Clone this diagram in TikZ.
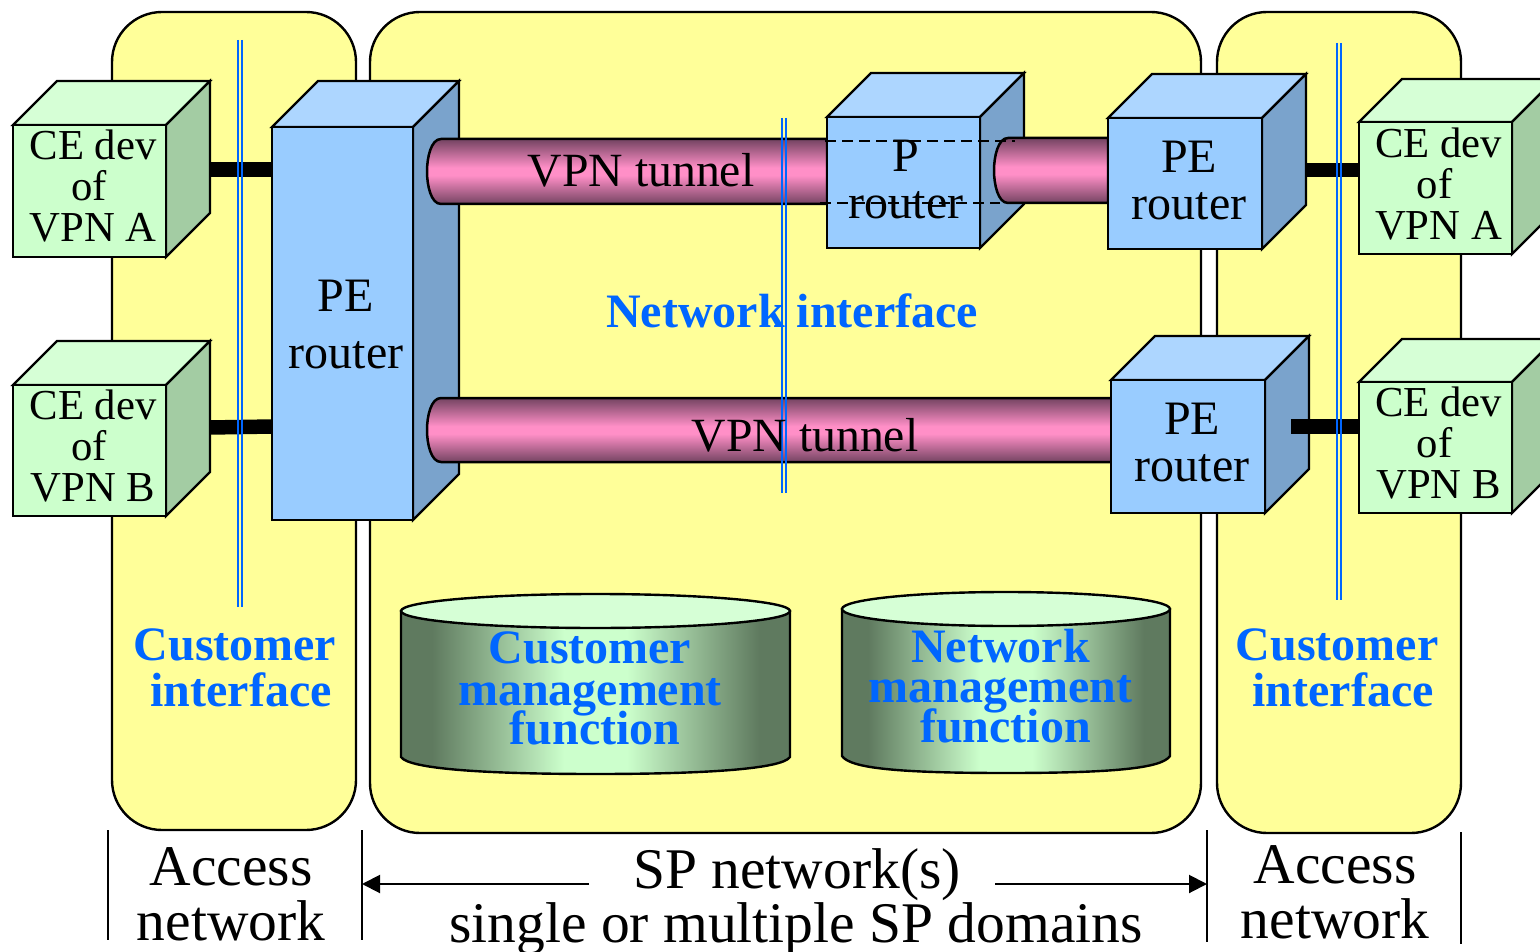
\documentclass[tikz,border=0pt]{standalone}
\usepackage{fontspec}
\setmainfont{Liberation Serif}
\usetikzlibrary{arrows.meta}
\normallineskiplimit=-100pt
\lineskiplimit=-100pt
\definecolor{zone}{HTML}{FFFF99}
\definecolor{gf}{HTML}{CCFFCC}
\definecolor{gt}{HTML}{D6FFD6}
\definecolor{gs}{HTML}{A3CCA3}
\definecolor{bf}{HTML}{99CCFF}
\definecolor{bt}{HTML}{ADD6FF}
\definecolor{bs}{HTML}{7AA3CC}
\definecolor{pk}{HTML}{FF8FC7}
\definecolor{pkd}{HTML}{7A4766}
\definecolor{cyld}{HTML}{5F7A5F}
\definecolor{ifc}{HTML}{0066FF}
\pgfdeclarehorizontalshading{drumshade}{100bp}{color(0bp)=(cyld); color(29bp)=(cyld); color(46bp)=(gf); color(54bp)=(gf); color(71bp)=(cyld); color(100bp)=(cyld)}
\pgfdeclareverticalshading{tubeshade}{100bp}{color(0bp)=(pkd); color(26bp)=(pkd); color(47bp)=(pk); color(53bp)=(pk); color(74bp)=(pkd); color(100bp)=(pkd)}
\tikzset{
  x=1pt,y=-1pt,
  zonebox/.style={draw=black,line width=2.4pt,fill=zone,rounded corners=50pt},
  facebox/.style={draw=black,line width=2.2pt,line join=miter,inner sep=0pt,outer sep=0pt},
  cubeside/.style={draw=black,line width=2.2pt,line join=miter},
  link/.style={line width=14.5pt,black},
  lab/.style={font=\fontsize{42.7}{41}\selectfont,align=center,inner sep=0pt,anchor=center,text=black},
  rtr/.style={font=\fontsize{48}{47}\selectfont,align=center,inner sep=0pt,anchor=center,text=black},
  big/.style={font=\fontsize{57.5}{55}\selectfont,align=center,inner sep=0pt,anchor=center,text=black},
  ifl/.style={font=\fontsize{48}{46}\selectfont\bfseries,align=center,inner sep=0pt,anchor=center,text=ifc},
  cyl/.style={font=\fontsize{48}{40}\selectfont\bfseries,align=center,inner sep=0pt,anchor=center,text=ifc},
  tun/.style={font=\fontsize{47.7}{46}\selectfont,inner sep=0pt,anchor=base,text=black},
  span/.style={font=\fontsize{57.5}{55}\selectfont,inner sep=0pt,anchor=base,text=black},
  bar/.style={line width=2pt,black},
  ifline/.style={line width=2.8pt,ifc},
  arr/.style={line width=2pt,black,-{Triangle[length=18pt,width=18pt]}},
  hiddenedge/.style={line width=1.6pt,black,dash pattern=on 11pt off 6pt},
  tube/.style={draw=black,line width=2.5pt,shading=tubeshade},
  drumbody/.style={draw=black,line width=2.4pt,shading=drumshade},
  drumtop/.style={draw=black,line width=2.4pt,fill=gt}
}
% name, x0, y0, x1, y1, depth, face, top, side
\newcommand{\cubebox}[9]{%
  \path[cubeside,fill=#8] (#2,#3) -- (#2+#6,#3-#6) -- (#4+#6,#3-#6) -- (#4,#3) -- cycle;
  \path[cubeside,fill=#9] (#4,#3) -- (#4+#6,#3-#6) -- (#4+#6,#5-#6) -- (#4,#5) -- cycle;
  \node[facebox,fill=#7,minimum width=#4pt-#2pt,minimum height=#5pt-#3pt] (#1) at ({(#2+#4)/2},{(#3+#5)/2}) {};
}
% name, x0, top, x1, bottom : tube with rounded left end
\newcommand{\tubebox}[5]{%
  \path[tube] (#2+14,#3) .. controls (#2+4,#3) and (#2,{(#3+#5)/2-14}) .. (#2,{(#3+#5)/2})
     .. controls (#2,{(#3+#5)/2+14}) and (#2+4,#5) .. (#2+14,#5) -- (#4,#5) -- (#4,#3) -- cycle;
  \coordinate (#1) at ({(#2+#4)/2},{(#3+#5)/2});
}
% name, x0, x1, top-centre y, bottom y
\newcommand{\drum}[5]{%
  \path[drumbody]
    (#2,#4) -- (#2,#5) .. controls (#2+8,#5+12) and ({(#2+#3)/2-110},#5+17) .. ({(#2+#3)/2},#5+17)
    .. controls ({(#2+#3)/2+110},#5+17) and (#3-8,#5+12) .. (#3,#5) -- (#3,#4) -- cycle;
  \path[drumtop] ({(#2+#3)/2},#4) ellipse [x radius={(#3-#2)/2},y radius=17];
  \coordinate (#1) at ({(#2+#3)/2},#4);
}
\begin{document}
\begin{tikzpicture}
\useasboundingbox (0,0) rectangle (1540,952);
\clip (0,0) rectangle (1540,952);

% zones
\path[zonebox] (112,12) rectangle (356,830);
\path[zonebox] (370,12) rectangle (1201,833);
\path[zonebox] (1217,12) rectangle (1461,833);

% drums
\drum{custDrum}{401}{790}{611}{757}
\drum{netDrum}{842}{1170}{609}{756}

% access links, drawn before the boxes
\coordinate (ceAport) at (209,169.5);
\coordinate (peAport) at (273,169.5);
\coordinate (ceBport) at (209,427.5);
\coordinate (peBport) at (273,426.5);
\coordinate (reAport) at (1305,170);
\coordinate (rcAport) at (1360,170);
\coordinate (reBport) at (1291,426.5);
\coordinate (rcBport) at (1360,426.5);
\draw[link] (ceAport) -- (peAport);
\draw[link] (ceBport) -- (peBport);

% boxes
\cubebox{ceA}{13}{125}{166}{257}{44}{gf}{gt}{gs}
\cubebox{ceB}{13}{385}{166}{516}{44}{gf}{gt}{gs}
\cubebox{peL}{272}{127}{413}{520}{46}{bf}{bt}{bs}

% long tubes
\tubebox{tunA}{427}{139}{827}{204}
\tubebox{tunB}{427}{398}{1112}{462}

\cubebox{pR}{827}{117}{980}{248}{44}{bf}{bt}{bs}
\tubebox{tunC}{994}{138}{1108}{203}
\cubebox{peA}{1108}{118}{1262}{249}{44}{bf}{bt}{bs}
\cubebox{peB}{1111}{380}{1265}{513}{44}{bf}{bt}{bs}
\cubebox{rceA}{1359}{122}{1512}{254}{43}{gf}{gt}{gs}
\cubebox{rceB}{1359}{382}{1512}{513}{43}{gf}{gt}{gs}

\draw[link] (reAport) -- (rcAport);
\draw[link] (reBport) -- (rcBport);

% hidden tube edges through the P router
\coordinate (dA0) at (825,141);
\coordinate (dA1) at (1015,141);
\coordinate (dB0) at (820,203);
\coordinate (dB1) at (1000,203);
\draw[hiddenedge] (dA0) -- (dA1);
\draw[hiddenedge] (dB0) -- (dB1);

% interface lines
\foreach \n/\xa/\ya/\yb in {l/238.5/40/607,m/782.5/118/493,r/1337.5/43/600}{
  \coordinate (if\n a) at (\xa,\ya);
  \coordinate (if\n b) at (\xa,\yb);
  \draw[ifline] ([xshift=-0.5pt]if\n a) -- ([xshift=-0.5pt]if\n b);
  \draw[ifline] ([xshift=3.5pt]if\n a) -- ([xshift=3.5pt]if\n b);
}

% labels
\node[lab] (tceA) at (93,186) {CE dev\\of\kern8pt\\VPN A};
\node[lab] (tceB) at (93,446) {CE dev\\of\kern8pt\\VPN B};
\node[lab] (trA) at (1438.5,184) {CE dev\\of\kern8pt\\VPN A};
\node[lab] (trB) at (1438.5,443) {CE dev\\of\kern8pt\\VPN B};
\node[rtr,font=\fontsize{48}{57}\selectfont] (tpeL) at (346,325) {PE\\router};
\node[rtr] (tP) at (906,179.5) {P\\router};
\node[rtr] (tpeA) at (1189,180.5) {PE\\router};
\node[rtr] (tpeB) at (1192,442.5) {PE\\router};
\node[tun] (ttA) at (641,186.5) {VPN tunnel};
\node[tun] (ttB) at (805,451) {VPN tunnel};
\node[ifl] (tni) at (792,311) {Network interface};
\node[ifl] (tciL) at (238,668) {Customer\kern6pt\\\kern6pt interface};
\node[ifl] (tciR) at (1340,668) {Customer\kern6pt\\\kern6pt interface};
\node[cyl] (tcm) at (590,688.5) {Customer\\[2pt]management\\[-1pt]\kern10pt function};
\node[cyl] (tnm) at (1000.5,686) {Network\\management\\\kern10pt function};
\node[big] (tanL) at (231,894.5) {Access\\network};
\node[big] (tanR) at (1335,892.5) {Access\\network};
\node[span] (tsp) at (797,888) {SP network(s)};
\node[span] (tsd) at (796,942.5) {single or multiple SP domains};

% scale bars and arrows
\coordinate (b1a) at (108,830); \coordinate (b1b) at (108,940);
\coordinate (b2a) at (362,830); \coordinate (b2b) at (362,940);
\coordinate (b3a) at (1207,830); \coordinate (b3b) at (1207,942);
\coordinate (b4a) at (1461,832); \coordinate (b4b) at (1461,944);
\draw[bar] (b1a) -- (b1b);
\draw[bar] (b2a) -- (b2b);
\draw[bar] (b3a) -- (b3b);
\draw[bar] (b4a) -- (b4b);
\coordinate (spL) at (589,884);
\coordinate (spR) at (995,884);
\draw[arr] (spL) -- (b2a |- spL);
\draw[arr] (spR) -- (b3a |- spR);
\end{tikzpicture}
\end{document}
